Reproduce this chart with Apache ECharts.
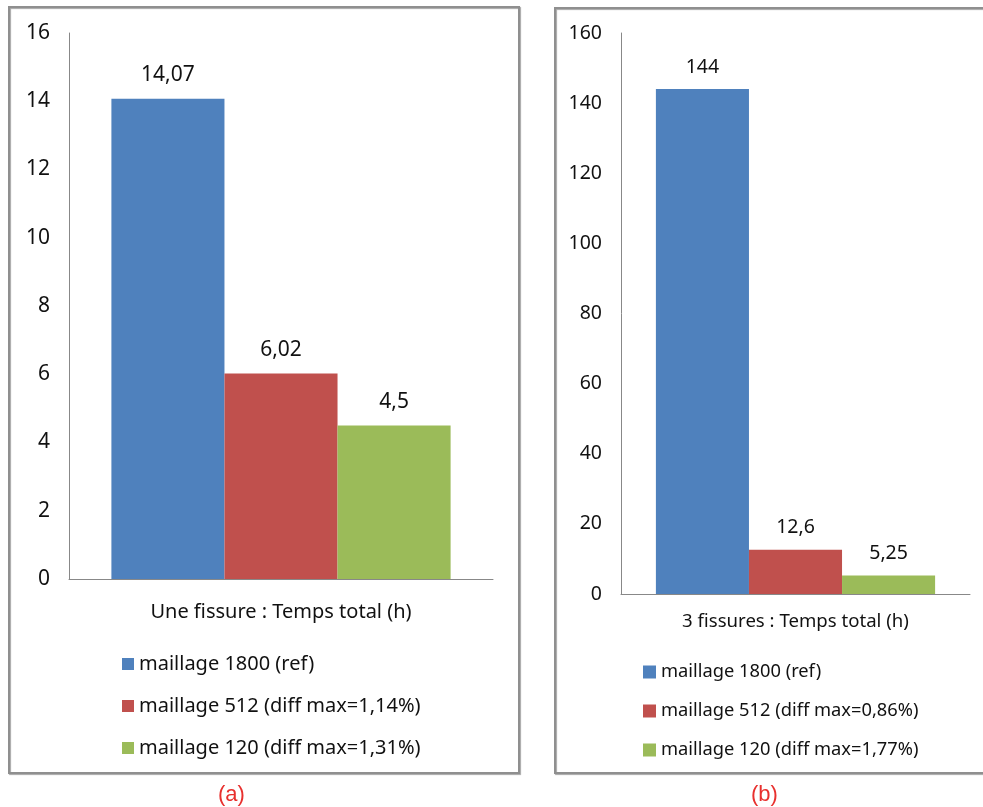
<!DOCTYPE html>
<html>
<head>
<meta charset="utf-8">
<script src="https://cdn.jsdelivr.net/npm/echarts@6/dist/echarts.min.js"></script>
<style>
  html, body { margin: 0; padding: 0; background: #ffffff; }
  #chart { width: 983px; height: 807px; }
</style>
</head>
<body>
<div id="chart"></div>
<script>
// Temps total de calcul selon le maillage
const categoriesA = ['Une fissure : Temps total (h)'];
const categoriesB = ['3 fissures : Temps total (h)'];

const namesA = ['maillage 1800 (ref)', 'maillage 512 (diff max=1,14%)', 'maillage 120 (diff max=1,31%)'];
const namesB = ['maillage 1800 (ref)', 'maillage 512 (diff max=0,86%)', 'maillage 120 (diff max=1,77%)'];

const valuesA = [14.07, 6.02, 4.5];
const valuesB = [144, 12.6, 5.25];

const axisA = [0, 16, 2];    // min, max, step
const axisB = [0, 160, 20];

const panelLabels = ['(a)', '(b)'];

const colors = ['#4F81BD', '#C0504D', '#9BBB59'];
const FONT = '"Noto Sans", "Open Sans", sans-serif';
const TEXT = '#111111';
const AXIS = '#888888';

const commaFmt = p => String(p.value).replace('.', ',');

function makeSeries(names, values, gridIdx, fontSize, dist) {
  return names.map((n, i) => ({
    name: n,
    type: 'bar',
    xAxisIndex: gridIdx,
    yAxisIndex: gridIdx,
    data: [values[i]],
    barGap: '0%',
    barCategoryGap: '20%',
    itemStyle: { color: colors[i] },
    label: {
      show: true,
      position: 'top',
      distance: dist,
      formatter: commaFmt,
      color: TEXT,
      fontFamily: FONT,
      fontSize: fontSize
    }
  }));
}

function xAxisDef(cats, gridIdx, fontSize, margin) {
  return {
    type: 'category',
    gridIndex: gridIdx,
    data: cats,
    axisLine: { show: true, lineStyle: { color: AXIS, width: 1 } },
    axisTick: { show: false },
    axisLabel: { color: TEXT, fontFamily: FONT, fontSize: fontSize, margin: margin },
    splitLine: { show: false }
  };
}

function yAxisDef(ax, gridIdx, fontSize) {
  return {
    type: 'value',
    gridIndex: gridIdx,
    min: ax[0], max: ax[1], interval: ax[2],
    axisLine: { show: true, lineStyle: { color: AXIS, width: 1 } },
    axisTick: { show: false },
    splitLine: { show: false },
    axisLabel: { color: TEXT, fontFamily: FONT, fontSize: fontSize, margin: 19 }
  };
}

const chart = echarts.init(document.getElementById('chart'), null, { renderer: 'canvas' });

chart.setOption({
  animation: false,
  backgroundColor: '#ffffff',
  grid: [
    { left: 69, top: 33, width: 424, height: 546 },
    { left: 621, top: 33, width: 349, height: 561 }
  ],
  xAxis: [
    xAxisDef(categoriesA, 0, 20, 23),
    xAxisDef(categoriesB, 1, 18.6, 18)
  ],
  yAxis: [
    yAxisDef(axisA, 0, 21),
    yAxisDef(axisB, 1, 19.5)
  ],
  legend: [
    {
      data: namesA,
      orient: 'vertical',
      left: 117, top: 649,
      itemWidth: 12, itemHeight: 12, itemGap: 22,
      icon: 'rect',
      selectedMode: false,
      textStyle: { color: TEXT, fontFamily: FONT, fontSize: 20, lineHeight: 20 }
    },
    {
      data: namesB,
      orient: 'vertical',
      left: 638, top: 657,
      itemWidth: 13, itemHeight: 13, itemGap: 19,
      icon: 'rect',
      selectedMode: false,
      textStyle: { color: TEXT, fontFamily: FONT, fontSize: 18.3, lineHeight: 20 }
    }
  ],
  series: [
    ...makeSeries(namesA, valuesA, 0, 21, 13),
    ...makeSeries(namesB, valuesB, 1, 19.5, 12)
  ],
  graphic: [
    {
      type: 'rect', silent: true, z: -1,
      shape: { x: 9, y: 7, width: 510, height: 766 },
      style: { fill: 'none', stroke: '#8f8f8f', lineWidth: 2,
               shadowColor: 'rgba(0,0,0,0.35)', shadowOffsetX: 1, shadowOffsetY: 1, shadowBlur: 1 }
    },
    {
      type: 'rect', silent: true, z: -1,
      shape: { x: 555, y: 8, width: 440, height: 765 },
      style: { fill: 'none', stroke: '#8f8f8f', lineWidth: 2,
               shadowColor: 'rgba(0,0,0,0.35)', shadowOffsetX: 1, shadowOffsetY: 1, shadowBlur: 1 }
    },
    {
      type: 'text', left: 232 - 14, top: 784,
      style: { text: panelLabels[0], fill: '#e8302e', font: '22px "Liberation Sans", Arial, sans-serif' }
    },
    {
      type: 'text', left: 765 - 14, top: 784,
      style: { text: panelLabels[1], fill: '#e8302e', font: '22px "Liberation Sans", Arial, sans-serif' }
    }
  ]
});
</script>
</body>
</html>
